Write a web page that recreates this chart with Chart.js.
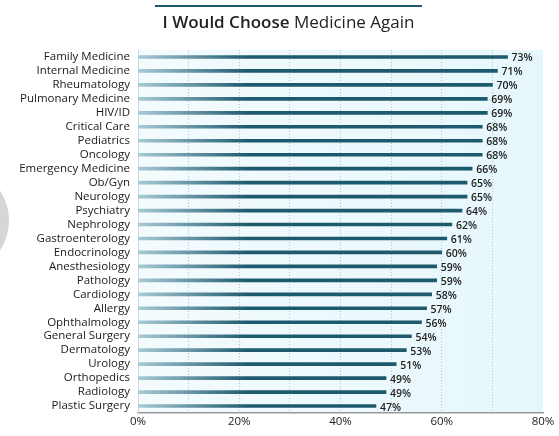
<!DOCTYPE html>
<html>
<head>
<meta charset="utf-8">
<script src="https://cdn.jsdelivr.net/npm/chart.js@4"></script>
<style>
  html, body { margin: 0; padding: 0; background: #fff; }
  #wrap { position: relative; width: 559px; height: 436px; overflow: hidden; }
  #title {
    position: absolute; left: 155px; top: 5px; width: 267px;
    border-top: 2px solid #1e5a6e; text-align: center;
    font-family: "Open Sans", sans-serif; font-size: 17px; color: #222;
    padding-top: 3px; line-height: 24px;
  }
  #title b { font-weight: 600; }
  #blob {
    position: absolute; left: -100px; top: 166px; width: 109px; height: 109px;
    border-radius: 50%; background: #d6d6d6;
  }
  canvas { position: absolute; left: 0; top: 0; }
</style>
</head>
<body>
<div id="wrap">
  <canvas id="chart" width="559" height="436"></canvas>
  <div id="title"><b>I Would Choose</b> Medicine Again</div>
  <div id="blob"></div>
</div>
<script>
const specialties = [
  'Family Medicine', 'Internal Medicine', 'Rheumatology', 'Pulmonary Medicine',
  'HIV/ID', 'Critical Care', 'Pediatrics', 'Oncology', 'Emergency Medicine',
  'Ob/Gyn', 'Neurology', 'Psychiatry', 'Nephrology', 'Gastroenterology',
  'Endocrinology', 'Anesthesiology', 'Pathology', 'Cardiology', 'Allergy',
  'Ophthalmology', 'General Surgery', 'Dermatology', 'Urology', 'Orthopedics',
  'Radiology', 'Plastic Surgery'
];
const wouldChoose = [73, 71, 70, 69, 69, 68, 68, 68, 66, 65, 65, 64, 62, 61,
  60, 59, 59, 58, 57, 56, 54, 53, 51, 49, 49, 47];
const tickLabels = [0, 20, 40, 60, 80];

const FONT = '"Open Sans", sans-serif';

// light blue panel behind the bars
const panelBg = {
  id: 'panelBg',
  beforeDraw(chart) {
    const { ctx, chartArea: a } = chart;
    const g = ctx.createLinearGradient(a.left, 0, a.right, 0);
    g.addColorStop(0, '#f3fbfd');
    g.addColorStop(1, '#e6f7fc');
    ctx.save();
    ctx.fillStyle = g;
    ctx.fillRect(a.left, a.top, a.right - a.left, a.bottom - a.top);
    ctx.restore();
  }
};

// percent labels at the end of each bar
const valueLabels = {
  id: 'valueLabels',
  afterDatasetsDraw(chart) {
    const { ctx } = chart;
    const meta = chart.getDatasetMeta(0);
    ctx.save();
    ctx.font = '600 10.5px ' + FONT;
    ctx.fillStyle = '#222';
    ctx.textBaseline = 'middle';
    ctx.textAlign = 'left';
    meta.data.forEach((bar, i) => {
      ctx.fillText(wouldChoose[i] + '%', bar.x + 4, bar.y + 1.5);
    });
    ctx.restore();
  }
};

new Chart(document.getElementById('chart'), {
  type: 'bar',
  data: {
    labels: specialties,
    datasets: [{
      data: wouldChoose,
      barThickness: 3,
      backgroundColor: (c) => {
        const a = c.chart.chartArea;
        if (!a) return '#1e5a6e';
        const g = c.chart.ctx.createLinearGradient(a.left, 0, a.left + 110, 0);
        g.addColorStop(0, '#a9cad6');
        g.addColorStop(1, '#1e5a6e');
        return g;
      }
    }]
  },
  options: {
    indexAxis: 'y',
    responsive: false,
    animation: false,
    layout: { padding: { top: 50, right: 16, bottom: 0, left: 0 } },
    plugins: { legend: { display: false }, tooltip: { enabled: false } },
    scales: {
      x: {
        min: 0, max: 80,
        ticks: {
          stepSize: 10,
          autoSkip: false,
          maxRotation: 0,
          padding: 2,
          color: '#222',
          font: { family: FONT, size: 11.5 },
          callback: (v) => tickLabels.includes(v) ? v + '%' : ''
        },
        grid: {
          drawTicks: false,
          color: (c) => (c.tick && (c.tick.value === 0 || c.tick.value === 80)) ? 'rgba(0,0,0,0)' : '#b9c4c8',
          lineWidth: 1
        },
        border: { display: true, color: '#9a9a9a', width: 1.5, dash: [1, 2] },
        afterFit: (s) => { s.height = 23; }
      },
      y: {
        ticks: {
          autoSkip: false,
          padding: 8,
          color: '#1a1a1a',
          font: { family: FONT, size: 11.5 }
        },
        grid: { display: false, drawTicks: false },
        border: { display: true, color: '#c6dbe2', width: 1 },
        afterFit: (s) => { s.width = 138; }
      }
    }
  },
  plugins: [panelBg, valueLabels]
});
</script>
</body>
</html>
